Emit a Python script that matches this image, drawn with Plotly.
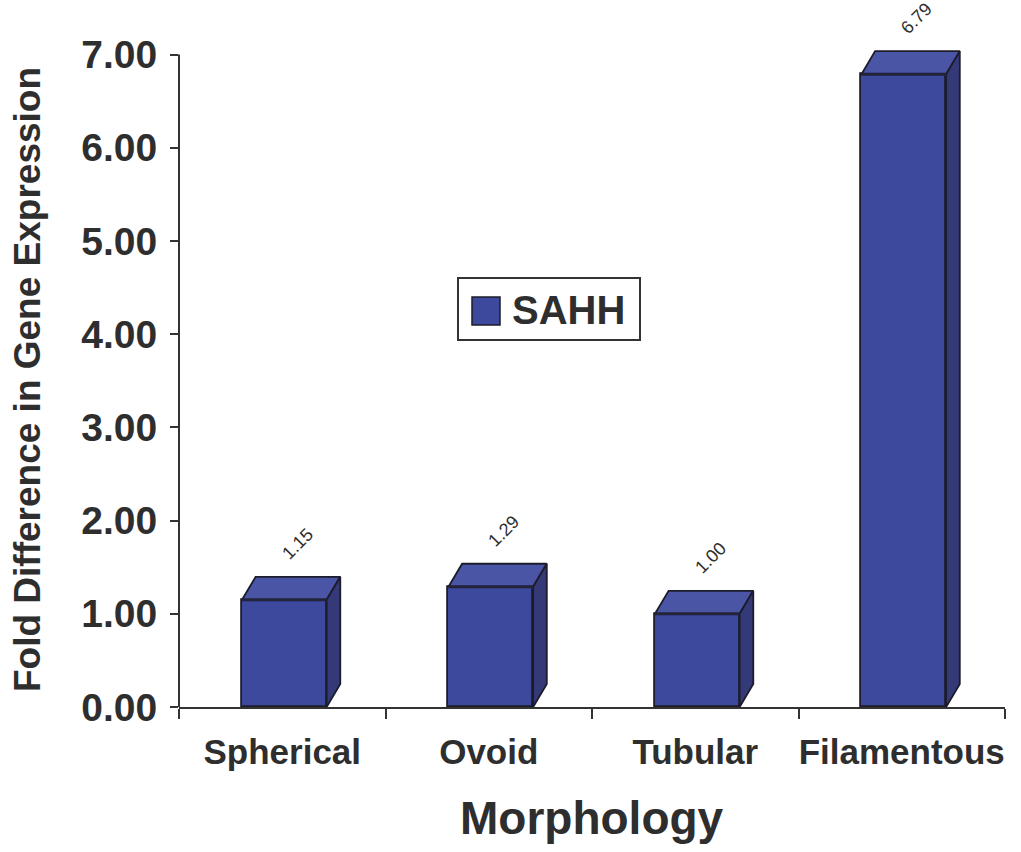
import plotly.graph_objects as go

# Data
categories = ["Spherical", "Ovoid", "Tubular", "Filamentous"]
sahh_fold = [1.15, 1.29, 1.00, 6.79]
value_labels = ["1.15", "1.29", "1.00", "6.79"]
y_tick_values = [0, 1, 2, 3, 4, 5, 6, 7]
y_tick_labels = ["0.00", "1.00", "2.00", "3.00", "4.00", "5.00", "6.00", "7.00"]

FONT = "Liberation Sans, Arial, sans-serif"
TEXT = "#2e2e2e"
FRONT = "#3c499c"
TOP = "#4a55a6"
SIDE = "#343a78"
EDGE = "#1c1c2a"

Y_MAX = 7.5          # a little headroom so the 3D top faces are not clipped
BAR_W = 0.41         # front face width (category units)
BAR_OFF = 0.51       # front face centre within each category slot
DEPTH_X = 0.066      # oblique depth, x units
DEPTH_Y = 0.247      # oblique depth, y units

centers = [i + BAR_OFF for i in range(len(categories))]

fig = go.Figure()

# front faces
fig.add_trace(go.Bar(
    x=centers, y=sahh_fold, width=BAR_W, name="SAHH",
    marker=dict(color=FRONT, line=dict(color=EDGE, width=1.8)),
    showlegend=False, hoverinfo="skip",
))

# top and side faces built from the same values
for c, v in zip(centers, sahh_fold):
    x0, x1 = c - BAR_W / 2, c + BAR_W / 2
    fig.add_trace(go.Scatter(
        x=[x0, x1, x1 + DEPTH_X, x0 + DEPTH_X, x0],
        y=[v, v, v + DEPTH_Y, v + DEPTH_Y, v],
        mode="lines", fill="toself", fillcolor=TOP,
        line=dict(color=EDGE, width=1.8), showlegend=False, hoverinfo="skip",
    ))
    fig.add_trace(go.Scatter(
        x=[x1, x1 + DEPTH_X, x1 + DEPTH_X, x1, x1],
        y=[0, DEPTH_Y, v + DEPTH_Y, v, 0],
        mode="lines", fill="toself", fillcolor=SIDE,
        line=dict(color=EDGE, width=1.8), showlegend=False, hoverinfo="skip",
    ))
    # darker line along the front edge of the top face
    fig.add_trace(go.Scatter(
        x=[x0, x1], y=[v, v], mode="lines",
        line=dict(color="#23233a", width=3), showlegend=False, hoverinfo="skip",
    ))

# value labels above each bar
for c, v, t in zip(centers, sahh_fold, value_labels):
    fig.add_annotation(
        x=c, y=v, text=t, showarrow=False, textangle=-45,
        xshift=13, yshift=56,
        font=dict(family=FONT, size=18, color=TEXT),
    )

# vertical axis line (drawn up to 7 only)
fig.add_shape(type="line", xref="paper", yref="paper",
              x0=0, x1=0, y0=0, y1=7 / Y_MAX,
              line=dict(color="#333333", width=2))

# legend box
L_X0, L_X1 = (458 - 179) / 826, (640 - 179) / 826
L_Y0, L_Y1 = (707 - 340) / 699, (707 - 278) / 699
fig.add_shape(type="rect", xref="paper", yref="paper",
              x0=L_X0, x1=L_X1, y0=L_Y0, y1=L_Y1,
              line=dict(color="#333333", width=2), fillcolor="white")
fig.add_shape(type="rect", xref="paper", yref="paper",
              x0=(472 - 179) / 826, x1=(500 - 179) / 826,
              y0=(707 - 325) / 699, y1=(707 - 297) / 699,
              line=dict(color=EDGE, width=1.5), fillcolor=FRONT)
fig.add_annotation(
    xref="paper", yref="paper", x=(510 - 179) / 826, y=(707 - 310) / 699,
    xanchor="left", yanchor="middle", text="SAHH", showarrow=False,
    font=dict(family=FONT, size=40, color=TEXT, weight="bold"),
)

# axis titles
fig.add_annotation(
    xref="paper", yref="paper", x=0.5, y=(707 - 818) / 699,
    xanchor="center", yanchor="middle", text="Morphology", showarrow=False,
    font=dict(family=FONT, size=46, color=TEXT, weight="bold"),
)
fig.add_annotation(
    xref="paper", yref="paper", x=(27 - 179) / 826, y=(707 - 380) / 699,
    xanchor="center", yanchor="middle", text="Fold Difference in Gene Expression",
    textangle=-90, showarrow=False,
    font=dict(family=FONT, size=37, color=TEXT, weight="bold"),
)

fig.update_layout(
    width=1021, height=852,
    margin=dict(l=179, r=16, t=8, b=145),
    paper_bgcolor="white", plot_bgcolor="white",
    bargap=0, showlegend=False,
    xaxis=dict(
        range=[0, len(categories)],
        tickvals=[i + 0.5 for i in range(len(categories))],
        ticktext=categories, ticks="",
        ticklabelstandoff=13,
        tickfont=dict(family=FONT, size=35, color=TEXT, weight="bold"),
        showline=True, linecolor="#333333", linewidth=2,
        showgrid=False, zeroline=False,
        minor=dict(tick0=0, dtick=1, ticks="outside", ticklen=10,
                   tickwidth=2, tickcolor="#333333", showgrid=False),
    ),
    yaxis=dict(
        range=[0, Y_MAX],
        tickvals=y_tick_values, ticktext=y_tick_labels,
        ticks="outside", ticklen=8, tickwidth=2, tickcolor="#333333",
        ticklabelstandoff=5,
        tickfont=dict(family=FONT, size=39, color=TEXT, weight="bold"),
        showline=False, showgrid=False, zeroline=False,
    ),
)

fig.write_html("out.html")
